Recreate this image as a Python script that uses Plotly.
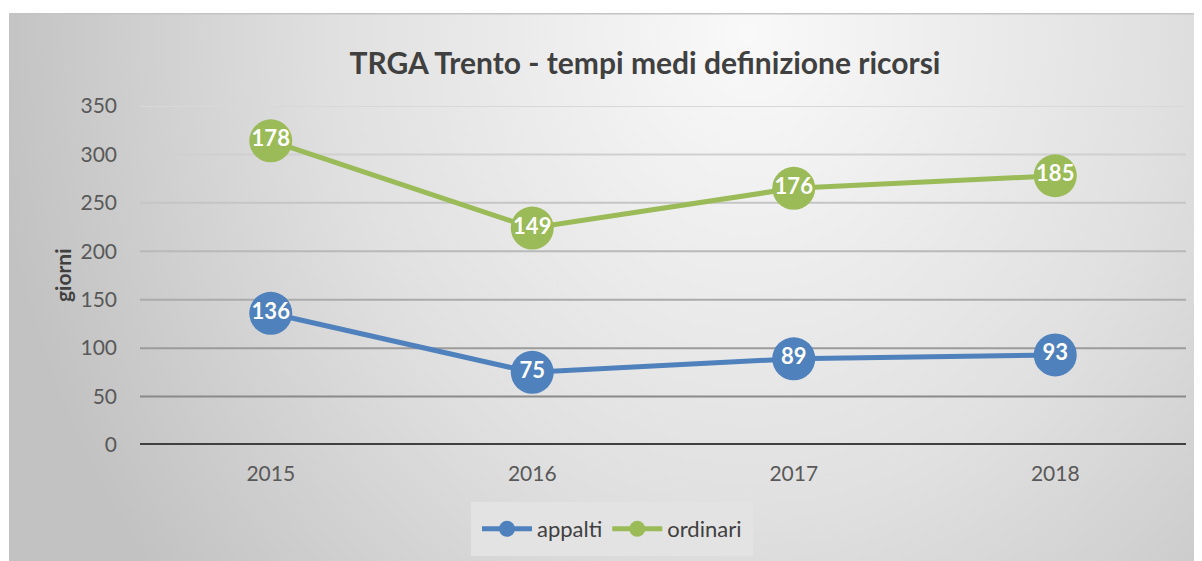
import base64
import plotly.graph_objects as go

years = ["2015", "2016", "2017", "2018"]
appalti = [136, 75, 89, 93]
ordinari = [178, 149, 176, 185]
tick_vals = [0, 50, 100, 150, 200, 250, 300, 350]
grid_colors = {50: "#8a8a8a", 100: "#9b9b9b", 150: "#ababab", 200: "#b9b9b9",
               250: "#c5c5c5", 300: "#d0d0d0", 350: "#d8d8d8"}

BLUE = "#4f81bd"
GREEN = "#9bbb59"
FONT = "Lato"

# stacked line chart: ordinari drawn on top of appalti
ordinari_stacked = [a + o for a, o in zip(appalti, ordinari)]

OFF = 8  # page body margin
W, H = 1202, 561
L, R, T, B = 140 - OFF, 1186 - OFF, 106 - OFF, 445 - OFF

svg = f'''<svg xmlns="http://www.w3.org/2000/svg" width="1193" height="548" viewBox="0 0 1193 548" preserveAspectRatio="none">
<defs><radialGradient id="g" gradientUnits="userSpaceOnUse" cx="740" cy="20" r="760"
 gradientTransform="translate(740,20) scale(1,1.15) translate(-740,-20)">
<stop offset="0" stop-color="#f9f9f9"/><stop offset="0.55" stop-color="#e0e0e0"/><stop offset="1" stop-color="#c2c2c2"/>
</radialGradient></defs>
<rect x="0" y="0" width="1193" height="548" fill="url(#g)"/>
<line x1="0" y1="0.75" x2="1193" y2="0.75" stroke="#c4c4c4" stroke-width="1.5"/>
</svg>'''
src = "data:image/svg+xml;base64," + base64.b64encode(svg.encode()).decode()

pw, ph = R - L, B - T
fig = go.Figure()

fig.add_trace(go.Scatter(x=years, y=appalti, name="appalti", mode="lines+markers",
                         line=dict(color=BLUE, width=5), marker=dict(size=43, color=BLUE)))
fig.add_trace(go.Scatter(x=years, y=ordinari_stacked, name="ordinari", mode="lines+markers",
                         line=dict(color=GREEN, width=5), marker=dict(size=43, color=GREEN)))
fig.add_trace(go.Scatter(x=years, y=appalti, mode="text", text=[str(v) for v in appalti],
                         textposition="middle center", showlegend=False, hoverinfo="skip",
                         textfont=dict(color="white", size=22, family=FONT, weight="bold")))
fig.add_trace(go.Scatter(x=years, y=ordinari_stacked, mode="text", text=[str(v) for v in ordinari],
                         textposition="middle center", showlegend=False, hoverinfo="skip",
                         textfont=dict(color="white", size=22, family=FONT, weight="bold")))

shapes = []
for v in tick_vals[1:]:
    shapes.append(dict(type="line", xref="paper", yref="y", x0=0, x1=1, y0=v, y1=v,
                       line=dict(color=grid_colors[v], width=2), layer="below"))
shapes.append(dict(type="line", xref="paper", yref="y", x0=0, x1=1, y0=0, y1=0,
                   line=dict(color="#404040", width=4), layer="below"))

fig.update_layout(
    width=W, height=H,
    margin=dict(l=L, r=W - R, t=T, b=H - B),
    paper_bgcolor="white", plot_bgcolor="rgba(0,0,0,0)",
    font=dict(family=FONT, color="#595959"),
    title=dict(text="TRGA Trento - tempi medi definizione ricorsi", x=(645 - OFF) / W,
               y=1 - (63 - OFF) / H, xanchor="center", yanchor="middle",
               font=dict(size=30, color="#404040", family=FONT, weight="bold")),
    xaxis=dict(type="category", range=[-0.5, 3.5], showgrid=False, zeroline=False,
               showline=False, ticks="", ticklabelstandoff=14,
               tickfont=dict(size=21, color="#595959", family=FONT), fixedrange=True),
    yaxis=dict(range=[0, 350], tickvals=tick_vals, showgrid=False, zeroline=False,
               showline=False, ticks="", ticklabelstandoff=22,
               tickfont=dict(size=21, color="#595959", family=FONT), fixedrange=True),
    shapes=shapes,
    images=[dict(source=src, xref="paper", yref="paper",
                 x=(9 - OFF - L) / pw, y=(B - (13 - OFF)) / ph, sizex=1193 / pw, sizey=548 / ph,
                 xanchor="left", yanchor="top", sizing="stretch", layer="below")],
    annotations=[dict(text="giorni", xref="paper", yref="paper", x=(62 - OFF - L) / pw,
                      y=(B - (275 - OFF)) / ph,
                      textangle=-90, showarrow=False, xanchor="center", yanchor="middle",
                      font=dict(size=21, color="#404040", family=FONT, weight="bold"))],
    legend=dict(orientation="h", x=(612 - OFF - L) / pw, y=(B - (529 - OFF)) / ph, xanchor="center",
                yanchor="middle", bgcolor="#e3e3e3", bordercolor="#e3e3e3", borderwidth=6,
                font=dict(size=22, color="#404040", family=FONT),
                itemwidth=50, entrywidth=0),
    showlegend=True,
)

fig.write_html("out.html")
